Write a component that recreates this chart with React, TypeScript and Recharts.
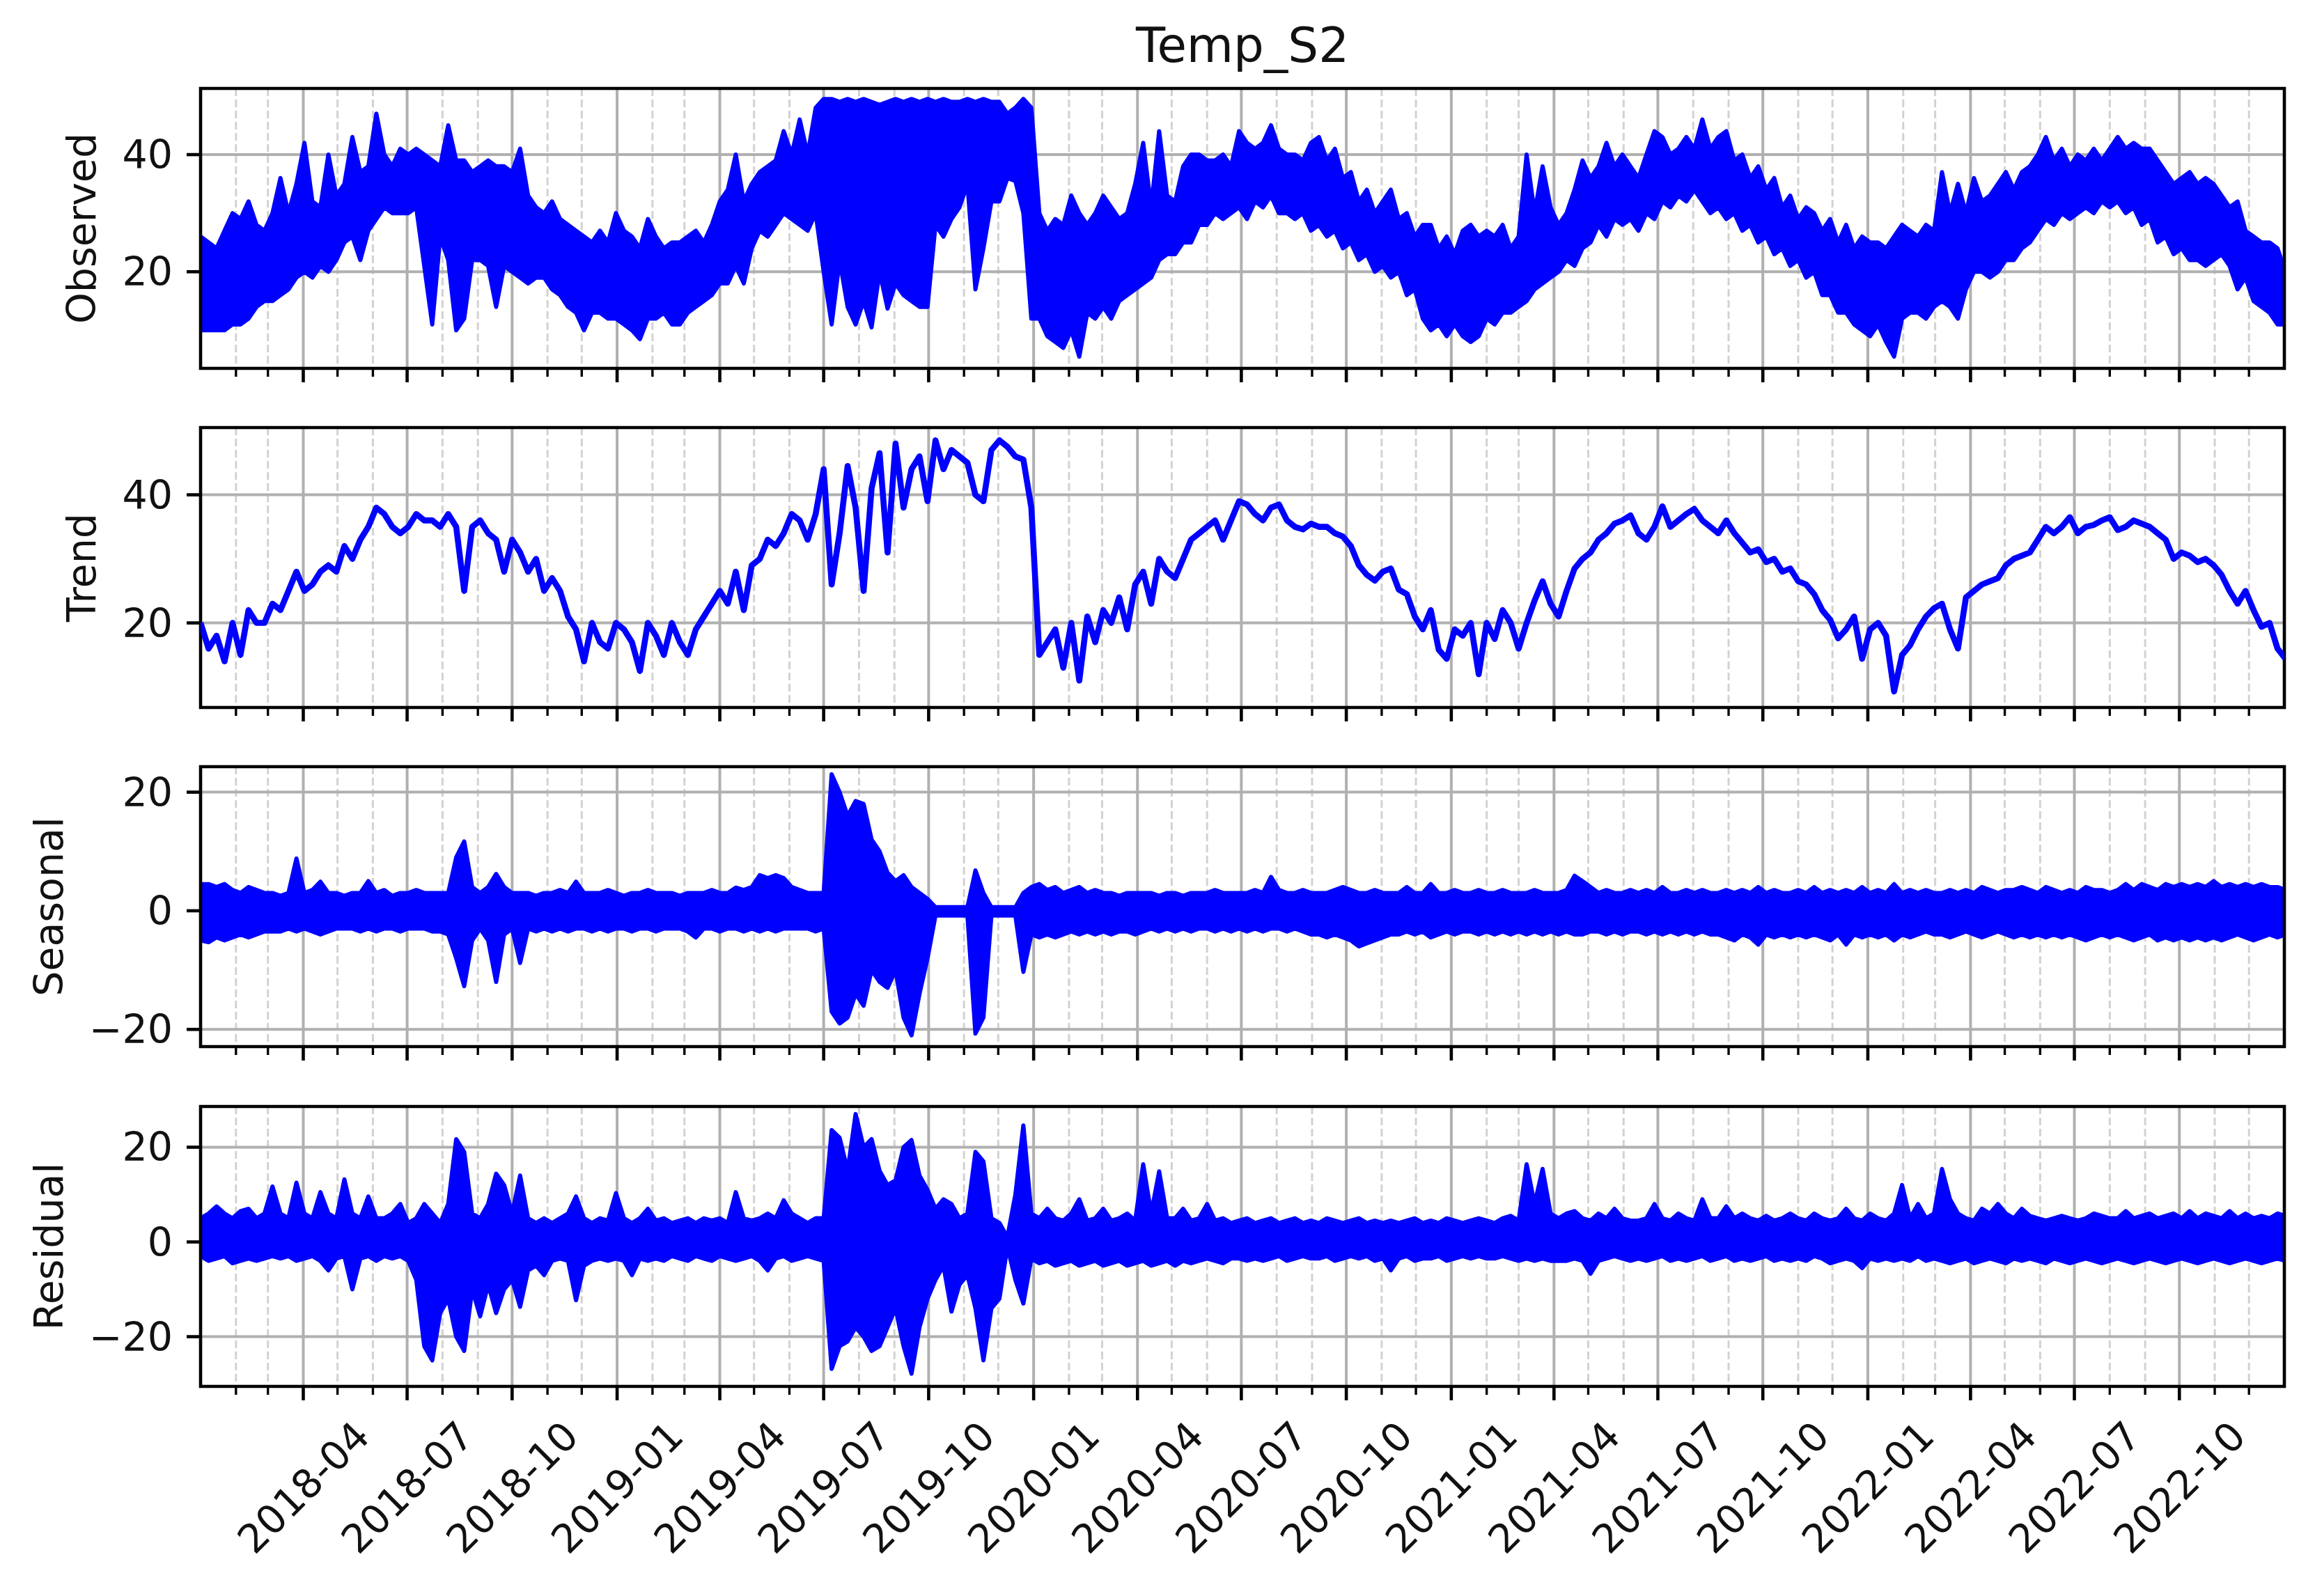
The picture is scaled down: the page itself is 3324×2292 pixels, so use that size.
import React from 'react';
import { Area, CartesianGrid, ComposedChart, Line, ReferenceArea, XAxis, YAxis } from 'recharts';

// ---- tick labels / axis categories ----
const quarterLabels = [
  '2018-04', '2018-07', '2018-10', '2019-01', '2019-04', '2019-07', '2019-10',
  '2020-01', '2020-04', '2020-07', '2020-10', '2021-01', '2021-04', '2021-07',
  '2021-10', '2022-01', '2022-04', '2022-07', '2022-10',
];
const monthStarts = [
  '2018-02', '2018-03', '2018-04', '2018-05', '2018-06', '2018-07', '2018-08', '2018-09', '2018-10', '2018-11', '2018-12',
  '2019-01', '2019-02', '2019-03', '2019-04', '2019-05', '2019-06', '2019-07', '2019-08', '2019-09', '2019-10', '2019-11', '2019-12',
  '2020-01', '2020-02', '2020-03', '2020-04', '2020-05', '2020-06', '2020-07', '2020-08', '2020-09', '2020-10', '2020-11', '2020-12',
  '2021-01', '2021-02', '2021-03', '2021-04', '2021-05', '2021-06', '2021-07', '2021-08', '2021-09', '2021-10', '2021-11', '2021-12',
  '2022-01', '2022-02', '2022-03', '2022-04', '2022-05', '2022-06', '2022-07', '2022-08', '2022-09', '2022-10', '2022-11', '2022-12',
];

// ---- weekly samples (week 0 = 2018-01-01) ----
const observedHi = [
  26, 25, 24, 27, 30, 29, 32, 28, 27, 30,
  36, 30, 35, 42, 32, 31, 40, 33, 35, 43,
  37, 38, 47, 40, 38, 41, 40, 41, 40, 39,
  38, 45, 39, 39, 37, 38, 39, 38, 38, 37,
  41, 33, 31, 30, 32, 29, 28, 27, 26, 25,
  27, 25, 30, 27, 26, 24, 29, 26, 24, 25,
  25, 26, 27, 25, 28, 32, 34, 40, 32, 35,
  37, 38, 39, 44, 40, 46, 40, 48, 49.5, 49.5,
  49, 49.5, 49, 49.5, 49, 48.5, 49, 49.5, 49, 49.5,
  49, 49.5, 49, 49.5, 49, 49, 49.5, 49, 49.5, 49,
  49, 47, 48, 49.5, 48, 30, 27, 29, 28, 33,
  30, 28, 30, 33, 31, 29, 30, 35, 42, 31,
  44, 33, 32, 38, 40, 40, 39, 39, 40, 38,
  44, 42, 41, 42, 45, 41, 40, 40, 39, 42,
  43, 39, 41, 36, 37, 32, 34, 30, 32, 34,
  29, 30, 26, 28, 28, 24, 26, 23, 27, 28,
  26, 27, 26, 28, 24, 26, 40, 30, 38, 31,
  28, 30, 34, 39, 36, 38, 42, 38, 40, 38,
  36, 40, 44, 43, 40, 41, 43, 41, 46, 41,
  43, 44, 39, 40, 36, 38, 34, 36, 31, 33,
  29, 31, 30, 27, 29, 25, 28, 24, 26, 25,
  25, 24, 26, 28, 27, 26, 28, 27, 37, 30,
  35, 30, 36, 32, 33, 35, 37, 34, 37, 38,
  40, 43, 39, 41, 38, 40, 39, 41, 39, 41,
  43, 41, 42, 41, 41, 39, 37, 35, 36, 37,
  35, 36, 35, 33, 31, 32, 27, 26, 25, 25,
  24, 20,
];
const observedLo = [
  10, 10, 10, 10, 11, 11, 12, 14, 15, 15,
  16, 17, 19, 20, 19, 21, 20, 22, 25, 26,
  22, 27, 29, 31, 30, 30, 30, 31, 21, 11,
  26, 22, 10, 12, 22, 22, 21, 14, 21, 20,
  19, 18, 19, 19, 17, 16, 14, 13, 10, 13,
  13, 12, 12, 11, 10, 8.5, 12, 12, 13, 11,
  11, 13, 14, 15, 16, 18, 18, 21, 18, 24,
  27, 26, 28, 30, 29, 28, 27, 30, 20, 11,
  22, 14, 11, 15, 10.5, 20, 13.7, 18, 16, 15,
  14, 14, 28, 26, 29, 31, 35, 17, 24, 32,
  32, 36, 35.5, 30, 12, 12, 9, 8, 7, 10,
  5.5, 13, 12, 14, 12, 15, 16, 17, 18, 19,
  22, 23, 23, 25, 25, 28, 28, 30, 29, 30,
  31, 29, 32, 31, 33, 30, 30, 29, 30, 27,
  28, 26, 27, 24, 25, 22, 23, 20, 21, 19,
  20, 16, 17, 12, 10, 11, 9, 11, 9, 8,
  9, 12, 11, 13, 13, 14, 15, 17, 18, 19,
  20, 22, 21, 24, 25, 28, 26, 29, 28, 29,
  27, 30, 29, 32, 31, 33, 32, 34, 32, 30,
  31, 29, 30, 27, 28, 25, 26, 23, 24, 21,
  22, 19, 20, 16, 16, 13, 13, 11, 10, 9,
  11, 8, 5.5, 12, 13, 13, 12, 14, 15, 14,
  12, 17, 20, 20, 19, 20, 22, 22, 24, 25,
  27, 29, 28, 30, 29, 30, 31, 30, 32, 31,
  32, 30, 31, 28, 29, 25, 26, 23, 24, 22,
  22, 21, 22, 23, 21, 17, 19, 15, 14, 13,
  11, 11,
];
const trendValues = [
  20, 16, 18, 14, 20, 15, 22, 20, 20, 23,
  22, 25, 28, 25, 26, 28, 29, 28, 32, 30,
  33, 35, 38, 37, 35, 34, 35, 37, 36, 36,
  35, 37, 35, 25, 35, 36, 34, 33, 28, 33,
  31, 28, 30, 25, 27, 25, 21, 19, 14, 20,
  17, 16, 20, 19, 17, 12.5, 20, 18, 15, 20,
  17, 15, 19, 21, 23, 25, 23, 28, 22, 29,
  30, 33, 32, 34, 37, 36, 33, 37, 44, 26,
  34, 44.5, 38, 25, 41, 46.5, 31, 48, 38, 44,
  46, 39, 48.5, 44, 47, 46, 45, 40, 39, 47,
  48.5, 47.5, 46, 45.5, 38, 15, 17, 19, 13, 20,
  11, 21, 17, 22, 20, 24, 19, 26, 28, 23,
  30, 28, 27, 30, 33, 34, 35, 36, 33, 36,
  39, 38.5, 37, 36, 38, 38.5, 36, 35, 34.6, 35.5,
  35, 35, 34, 33.5, 32, 29, 27.5, 26.6, 28, 28.5,
  25.2, 24.5, 21, 19, 22, 15.8, 14.4, 19, 18, 20,
  12, 20, 17.5, 22, 20, 16, 20, 23.5, 26.5, 23,
  21, 25, 28.5, 30, 31, 33, 34, 35.5, 36, 36.8,
  34, 33, 35, 38.2, 35, 36, 37, 37.8, 36, 35,
  34, 36, 34, 32.5, 31, 31.5, 29.5, 30, 28, 28.5,
  26.5, 26, 24.5, 22, 20.5, 17.6, 19, 21, 14.4, 19,
  20, 18, 9.3, 15, 16.5, 19, 21, 22.3, 23, 19,
  16, 24, 25, 26, 26.5, 27, 29, 30, 30.5, 31,
  33, 35, 34, 35, 36.5, 34, 35, 35.3, 36, 36.5,
  34.5, 35, 36, 35.5, 35, 34, 33, 30, 31, 30.5,
  29.5, 30, 29, 27.5, 25, 23, 25, 22, 19.4, 20,
  16, 14.4,
];
const seasonalHi = [
  4.5, 4.5, 4, 4.5, 3.5, 3, 4, 3.5, 3, 3,
  2.5, 3, 8.8, 3, 3.5, 4.9, 3, 3, 2.5, 3,
  3, 5, 3, 3.5, 2.5, 3, 3, 3.5, 3, 3,
  3, 3, 9, 11.7, 4, 3, 4, 6.2, 4, 3,
  3, 3, 2.5, 3, 3, 3.5, 3, 4.9, 3, 3,
  3, 3.5, 3, 2.5, 3, 3, 3.5, 3, 3, 3,
  2.5, 3, 3, 3, 3.5, 3, 3, 3.9, 3.5, 4,
  6, 5.5, 6, 5.5, 4, 3.5, 3, 3, 3, 23,
  20, 16, 18.5, 18, 12, 10, 6.4, 5, 6, 4,
  3, 2, 0.6, 0.6, 0.6, 0.6, 0.6, 6.8, 3, 0.6,
  0.6, 0.6, 0.6, 3, 4, 4.5, 3.5, 4, 3, 3.5,
  4, 3, 3.5, 3, 3, 2.5, 3, 3, 3, 3,
  2.5, 3, 3, 2.5, 3, 3, 3, 3.5, 3, 3,
  3, 3, 3.5, 3, 5.7, 3.5, 3, 3, 3.5, 3,
  3, 3, 3.5, 4, 3.5, 3, 3, 3.5, 3, 3,
  3, 4, 3, 3, 4.5, 3, 3, 3.5, 3, 3,
  3.5, 3, 3, 3.5, 3, 3, 3, 3.5, 3, 3,
  3, 3.5, 5.9, 5, 4, 3, 3.5, 3, 3, 3.5,
  3, 3.5, 3, 4, 3, 3, 3.5, 3, 3.5, 3,
  3, 3.5, 3, 3.5, 3, 4, 3, 3.5, 3, 3,
  3.5, 3, 4, 3, 3.5, 3, 3.5, 3, 4, 3,
  3.5, 3, 4.5, 3, 3.5, 3, 3.5, 3, 3, 3.5,
  3, 3.5, 3, 4, 3.5, 3, 3.5, 3.5, 4, 3.5,
  3, 4, 3.5, 3, 3.5, 3, 4, 3.5, 3.5, 3,
  3.5, 4.5, 3.5, 4.5, 4, 3.5, 4.5, 4, 4.5, 4,
  4.5, 4, 5, 4, 4.5, 4, 4.5, 4, 4.5, 4,
  4, 3.5,
];
const seasonalLo = [
  -5, -5.3, -4.5, -5, -4.5, -4, -4.5, -4, -3.5, -3.5,
  -3.5, -3, -3.5, -3, -3.5, -4, -3.5, -3, -3, -3,
  -3.5, -3, -3.5, -3, -3, -3.5, -3, -3, -3, -3.5,
  -3.5, -4, -8, -12.7, -5, -3, -5, -12, -4, -3,
  -8.8, -3, -3.5, -3, -3.5, -3, -3.5, -3, -3, -3.5,
  -3, -3.5, -3, -3, -3.5, -3, -3, -3.5, -3, -3,
  -3, -3.5, -4.5, -3, -3, -3.5, -3, -3, -3.5, -3,
  -3.5, -3, -3.5, -3, -3, -3, -3, -3.5, -3, -17,
  -19, -18, -14, -16, -10, -12, -13, -10, -18, -21,
  -14, -8, -0.8, -0.8, -0.8, -0.8, -0.8, -20.7, -18, -0.8,
  -0.8, -0.8, -0.8, -10.3, -4, -4.5, -4, -4.5, -4, -3.5,
  -4, -3.5, -4, -3.5, -4, -3.5, -3.5, -4, -3.5, -3,
  -3.5, -3, -3.5, -3, -3.5, -3, -3, -3.5, -3, -3.5,
  -3, -3.5, -3, -3.5, -3, -3, -3.5, -3, -3.5, -4,
  -4, -4.5, -4, -4.5, -5, -6, -5.5, -5, -4.5, -4,
  -4, -3.5, -4, -3.5, -4.5, -4, -3.5, -4, -3.5, -3.5,
  -4, -3.5, -4, -3.5, -4, -3.5, -4, -3.5, -4, -3.5,
  -4, -3.5, -4, -4, -3.5, -3.5, -4, -3.5, -4, -3.5,
  -3.5, -4, -3.5, -4, -3.5, -4, -3.5, -4, -3.5, -4,
  -4, -4.5, -5, -4, -4.5, -5.7, -4, -4.5, -4, -4.5,
  -4, -4.5, -4, -4.5, -5, -4, -5.7, -4, -4.5, -4,
  -4.5, -4, -5, -4, -4.5, -4, -3.5, -4, -4, -4.5,
  -4, -3.5, -4, -4.5, -4, -3.5, -4, -4.5, -4, -4.5,
  -4, -4.5, -4, -4.5, -4, -4.5, -5, -4.5, -4, -4.5,
  -4, -4.5, -5, -4.5, -4, -5, -4.5, -5, -4.5, -5,
  -4.5, -5, -4.5, -5, -4.5, -4, -4.5, -5, -4.5, -4,
  -4.5, -4,
];
const residualHi = [
  5, 6, 7.5, 6, 5, 6.5, 7, 5, 6, 11.7,
  6, 5, 12.5, 6, 5, 10.5, 6, 5, 13.2, 6,
  5, 9.6, 5, 5, 6, 8, 4, 5, 8, 6,
  4, 8, 21.7, 19, 6, 5, 8, 14.4, 12, 6,
  14, 5, 4, 5, 4, 5, 6, 9.6, 5, 4,
  5, 4.5, 10.3, 5, 4, 5, 7, 4.5, 5, 4,
  4.5, 5, 4, 5, 4.5, 5, 4, 10.5, 5, 4.5,
  5, 6, 5, 8.8, 6, 5, 4, 5, 5, 23.6,
  22, 15, 27, 20, 21.7, 15, 12, 13, 20, 21.5,
  14, 11, 7, 9, 8, 5, 6, 19, 17, 5,
  4, 1, 10, 24.6, 6, 5, 7, 5, 4.5, 6,
  9, 4.5, 5, 7, 4.5, 5, 6, 4.5, 16.4, 6,
  14.9, 5, 5, 7, 4.5, 5, 8, 4.5, 5, 4,
  4.5, 5, 4, 4.5, 5, 4, 4.5, 5, 4, 4.5,
  4, 5, 4.5, 4, 4.5, 5, 4, 4.5, 4, 4.5,
  4, 4.5, 5, 4, 4.5, 4, 5, 4.5, 4, 4.5,
  5, 4.5, 4, 5, 5.5, 4.5, 16.4, 8, 15.4, 6,
  5, 6, 6.5, 5, 4.5, 6, 5, 7, 5, 4.5,
  4.5, 5, 8, 5, 4.5, 6, 5, 4.5, 9, 5,
  5, 7.5, 5, 6, 5, 4.5, 5.5, 4.5, 5, 6,
  5, 4.5, 6, 5, 4.5, 5, 7, 5, 4.5, 6,
  5, 4.5, 6, 12, 5, 8, 5, 6, 15.4, 9,
  6, 5, 4.5, 7, 6, 8, 6, 5, 7, 5.5,
  5, 4.5, 5, 5.5, 5, 4.5, 5, 6, 5.5, 5,
  5, 6.5, 5, 5.5, 6, 5, 5.5, 6, 5, 6.5,
  5, 6, 5.5, 5, 6.5, 5, 6, 5, 5.5, 5,
  6, 5.5,
];
const residualLo = [
  -3, -4, -3.5, -3, -4.5, -4, -3.5, -4, -3.5, -3,
  -3.5, -3, -4, -3.5, -3, -4, -6, -3.5, -3, -10,
  -3.5, -3, -4, -3, -3.5, -3, -4, -8, -22, -25,
  -15, -12, -20, -23, -10, -15.7, -9, -15, -10, -8,
  -13.7, -6, -5, -7, -4, -3.5, -4, -12.3, -5, -4,
  -3.5, -4, -3.5, -4, -7, -3.5, -4, -3.5, -4, -3,
  -3.5, -4, -3, -3.5, -4, -3, -3.5, -4, -3.5, -3,
  -4, -6, -3.5, -3, -4, -3.5, -3, -3.5, -4, -26.8,
  -22, -21, -18, -20, -23, -22, -18, -14, -22, -27.8,
  -18, -12, -8, -5, -14.7, -9, -7, -14, -25, -14,
  -12, -1, -8, -13, -3.5, -4.5, -4, -5, -4.5, -4,
  -5, -4.5, -4, -5, -4.5, -4, -5, -4.5, -4, -5,
  -4.5, -4, -5, -4, -4.5, -4, -3.5, -4, -4.5, -3.5,
  -3.5, -4, -3.5, -4, -3.5, -3, -4, -3.5, -3, -3.5,
  -3.5, -3, -4, -3.5, -3, -3.5, -3, -4, -3.5, -6,
  -3.5, -3, -4, -3.5, -3.5, -3, -4, -3.5, -3, -3.5,
  -3, -3.5, -3.5, -3, -3.5, -4, -3.5, -4, -3.5, -4,
  -4, -4, -3.5, -4, -6.7, -4, -3.5, -3, -3.5, -4,
  -3.5, -4, -3.5, -3, -4, -3.5, -4, -3.5, -3, -4,
  -3.5, -3, -4, -3.5, -4, -3.5, -3, -4, -3.5, -4,
  -3.5, -4, -3, -3.5, -4.5, -4, -3.5, -4, -5.5, -3.5,
  -4, -3.5, -4, -3.5, -4, -3, -4, -3.5, -4, -4.5,
  -4, -3.5, -4.5, -4, -3.5, -4, -4.5, -3.5, -4, -3.5,
  -4, -4.5, -3.5, -4, -4.5, -4, -3.5, -4, -4.5, -4,
  -3.5, -4, -4.5, -4, -3.5, -4, -4.5, -4, -3.5, -4,
  -4.5, -4, -3.5, -4, -4.5, -4, -3.5, -4, -4.5, -4,
  -3.5, -4,
];

// ---- layout ----
const W = 3324;
const H = 2292;
const PLOT_LEFT = 288;
const PLOT_RIGHT_GAP = 44;
const PLOT_H = 402;
const FONT = '"DejaVu Sans", Verdana, sans-serif';
const INK = '#111111';
const BLUE = '#0000ff';

const START = Date.UTC(2018, 0, 1);
const LAST_DAY = 1826;
const toDay = (ym: string) => {
  const [y, m] = ym.split('-').map(Number);
  return Math.round((Date.UTC(y, m - 1, 1) - START) / 86400000);
};
const monthDays = monthStarts.map(toDay);
const quarterDays = quarterLabels.map(toDay);
const minorDays = monthDays.filter((d) => !quarterDays.includes(d));

const bandRows = (lo: number[], hi: number[]) => hi.map((h, i) => ({ day: i * 7, band: [lo[i], h] }));
const lineRows = (v: number[]) => v.map((y, i) => ({ day: i * 7, value: y }));

const fmt = (v: number) => (v < 0 ? `\u2212${Math.abs(v)}` : `${v}`);

function XTick(props: any) {
  const { x, y, payload, showLabels } = props;
  const qi = quarterDays.indexOf(payload.value);
  const major = qi >= 0;
  return (
    <g>
      <line x1={x} x2={x} y1={y} y2={y + (major ? 20 : 12)} stroke="#000" strokeWidth={major ? 4.6 : 3.4} />
      {showLabels && major && (
        <text
          transform={`translate(${x},${y + 145}) rotate(-45)`}
          textAnchor="middle"
          dominantBaseline="central"
          fontFamily={FONT}
          fontSize={57}
          fill={INK}
        >
          {quarterLabels[qi]}
        </text>
      )}
    </g>
  );
}

function YTick(props: any) {
  const { x, y, payload } = props;
  return (
    <g>
      <line x1={x - 20} x2={x} y1={y} y2={y} stroke="#000" strokeWidth={4.6} />
      <text x={x - 40} y={y} textAnchor="end" dominantBaseline="central" fontFamily={FONT} fontSize={57} fill={INK}>
        {fmt(payload.value)}
      </text>
    </g>
  );
}

type PanelProps = {
  top: number;
  domain: [number, number];
  ticks: number[];
  rows: any[];
  kind: 'band' | 'line';
  bottom?: boolean;
};

function Panel({ top, domain, ticks, rows, kind, bottom }: PanelProps) {
  const xHeight = bottom ? 290 : 30;
  return (
    <div style={{ position: 'absolute', left: 0, top: top - 20 }}>
      <ComposedChart
        width={W}
        height={20 + PLOT_H + xHeight}
        data={rows}
        margin={{ top: 20, right: PLOT_RIGHT_GAP, left: 0, bottom: 0 }}
      >
        <CartesianGrid horizontal={false} verticalValues={minorDays} stroke="#d2d2d2" strokeWidth={3} strokeDasharray="11 5" />
        <CartesianGrid verticalValues={quarterDays} stroke="#b0b0b0" strokeWidth={4} />
        <XAxis
          type="number"
          dataKey="day"
          domain={[0, LAST_DAY]}
          allowDataOverflow
          ticks={monthDays}
          interval={0}
          height={xHeight}
          axisLine={false}
          tickLine={false}
          tickSize={0}
          tickMargin={0}
          tick={<XTick showLabels={!!bottom} />}
        />
        <YAxis
          type="number"
          domain={domain}
          allowDataOverflow
          ticks={ticks}
          interval={0}
          width={PLOT_LEFT}
          axisLine={false}
          tickLine={false}
          tickSize={0}
          tickMargin={0}
          tick={<YTick />}
        />
        {kind === 'band' ? (
          <Area
            type="linear"
            dataKey="band"
            stroke={BLUE}
            strokeWidth={6}
            strokeLinejoin="round"
            fill={BLUE}
            fillOpacity={1}
            dot={false}
            activeDot={false}
            isAnimationActive={false}
          />
        ) : (
          <Line
            type="linear"
            dataKey="value"
            stroke={BLUE}
            strokeWidth={8.6}
            strokeLinejoin="round"
            dot={false}
            activeDot={false}
            isAnimationActive={false}
          />
        )}
        <ReferenceArea x1={0} x2={LAST_DAY} y1={domain[0]} y2={domain[1]} fill="none" stroke="#000" strokeWidth={4.6} />
      </ComposedChart>
    </div>
  );
}

const panels = [
  { name: 'Observed', top: 127, domain: [3.5, 51.3] as [number, number], ticks: [20, 40], labelX: 117, rows: bandRows(observedLo, observedHi), kind: 'band' as const },
  { name: 'Trend', top: 614, domain: [6.8, 50.5] as [number, number], ticks: [20, 40], labelX: 117, rows: lineRows(trendValues), kind: 'line' as const },
  { name: 'Seasonal', top: 1101, domain: [-22.9, 24.3] as [number, number], ticks: [-20, 0, 20], labelX: 70, rows: bandRows(seasonalLo, seasonalHi), kind: 'band' as const },
  { name: 'Residual', top: 1589, domain: [-30.5, 28.6] as [number, number], ticks: [-20, 0, 20], labelX: 70, rows: bandRows(residualLo, residualHi), kind: 'band' as const },
];

export default function App() {
  return (
    <div style={{ position: 'absolute', left: 0, top: 0, width: W, height: H, background: '#fff', overflow: 'hidden' }}>
      <svg width={W} height={H} style={{ position: 'absolute', left: 0, top: 0 }}>
        <text x={(PLOT_LEFT + W - PLOT_RIGHT_GAP) / 2} y={89} textAnchor="middle" fontFamily={FONT} fontSize={69} fill={INK}>
          Temp_S2
        </text>
        {panels.map((p) => (
          <text
            key={p.name}
            transform={`translate(${p.labelX},${p.top + PLOT_H / 2}) rotate(-90)`}
            textAnchor="middle"
            dominantBaseline="central"
            fontFamily={FONT}
            fontSize={57}
            fill={INK}
          >
            {p.name}
          </text>
        ))}
      </svg>
      {panels.map((p, i) => (
        <Panel key={p.name} top={p.top} domain={p.domain} ticks={p.ticks} rows={p.rows} kind={p.kind} bottom={i === panels.length - 1} />
      ))}
    </div>
  );
}
